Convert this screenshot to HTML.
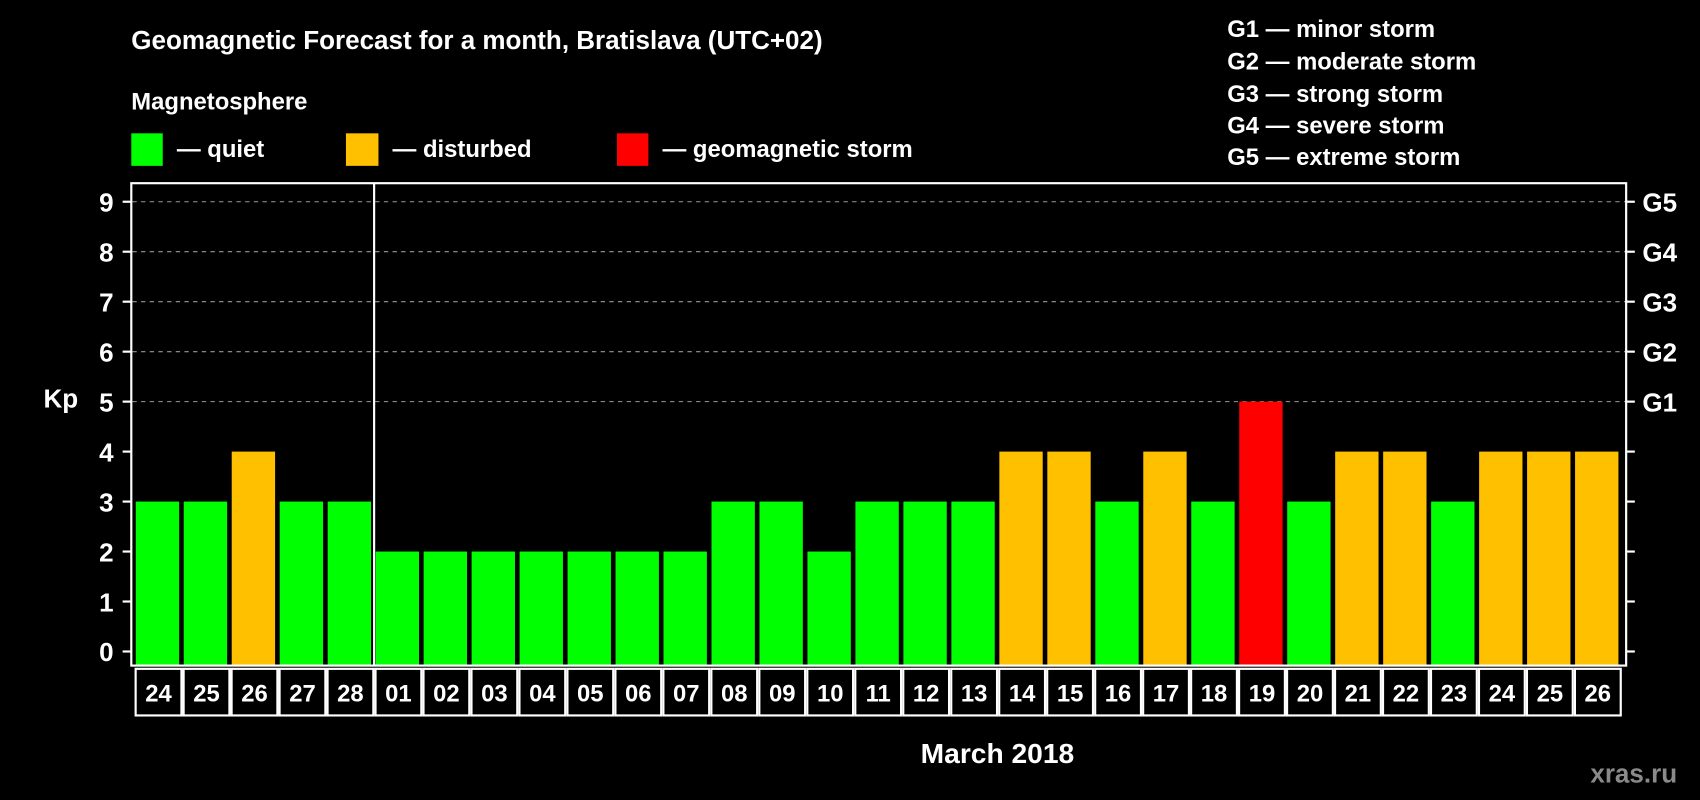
<!DOCTYPE html>
<html><head><meta charset="utf-8"><style>
html,body{margin:0;padding:0;background:#000;width:1700px;height:800px;overflow:hidden}
svg text{font-family:"Liberation Sans",Arial,sans-serif;font-weight:bold;fill:#fff}
</style></head><body>
<svg id="chart" width="1700" height="800" viewBox="0 0 1568 738" xmlns="http://www.w3.org/2000/svg">
<rect width="1568" height="738" fill="#000"/>
<text x="121" y="45" font-size="24">Geomagnetic Forecast for a month, Bratislava (UTC+02)</text>
<text x="121" y="101" font-size="22">Magnetosphere</text>
<g><rect x="121" y="123" width="29" height="30" fill="#00ff00"/><text x="163" y="145" font-size="22">— quiet</text></g>
<g><rect x="319" y="123" width="30" height="30" fill="#ffc000"/><text x="362" y="145" font-size="22">— disturbed</text></g>
<g><rect x="569" y="123" width="29" height="30" fill="#ff0000"/><text x="611" y="145" font-size="22">— geomagnetic storm</text></g>
<g font-size="22">
<text x="1132" y="34">G1 — minor storm</text>
<text x="1132" y="64">G2 — moderate storm</text>
<text x="1132" y="94">G3 — strong storm</text>
<text x="1132" y="123">G4 — severe storm</text>
<text x="1132" y="152">G5 — extreme storm</text>
</g>
<text x="40" y="376" font-size="24">Kp</text>
<g id="grid"></g><g id="bars"></g>
<rect x="121" y="169" width="1379" height="445" fill="none" stroke="#fff" stroke-width="2"/>
<line x1="345" y1="169" x2="345" y2="614" stroke="#fff" stroke-width="2"/>
<g id="yaxis"></g><g id="xaxis"></g>
<text x="920" y="704" font-size="26" text-anchor="middle">March 2018</text>
<text x="1547" y="722" font-size="24" text-anchor="end" style="fill:#8a8a8a">xras.ru</text>
</svg>
<script>
const days=["24","25","26","27","28","01","02","03","04","05","06","07","08","09","10","11","12","13","14","15","16","17","18","19","20","21","22","23","24","25","26"];
const kpValues=[3,3,4,3,3,2,2,2,2,2,2,2,3,3,2,3,3,3,4,4,3,4,3,5,3,4,4,3,4,4,4];
const yTicks=[0,1,2,3,4,5,6,7,8,9];
const gLabels=["","","","","","G1","G2","G3","G4","G5"];
const NS="http://www.w3.org/2000/svg";
const y0=601,unit=46.1,slot0=123,pitch=(1495-123)/days.length,bw=40;
const ys=v=>y0-v*unit, xs=i=>slot0+pitch*i;
function mk(t,a,p){const e=document.createElementNS(NS,t);for(const k in a)e.setAttribute(k,a[k]);p.appendChild(e);return e;}
const grid=document.getElementById('grid'),bars=document.getElementById('bars'),ya=document.getElementById('yaxis'),xa=document.getElementById('xaxis');
yTicks.forEach((t,i)=>{
  const y=ys(t);
  if(t>=5){const g=mk('line',{x1:122,x2:1499,y1:y,y2:y,stroke:'#999','stroke-dasharray':'4,4','stroke-width':1},grid);
  
  }
  mk('line',{x1:113,x2:121,y1:y,y2:y,stroke:'#fff','stroke-width':2},ya);
  mk('line',{x1:1500,x2:1508,y1:y,y2:y,stroke:'#fff','stroke-width':2},ya);
  const tx=mk('text',{x:98,y:y+9,'font-size':24,'text-anchor':'middle'},ya);tx.textContent=t;
  
  
  if(gLabels[i]){const g2=mk('text',{x:1515,y:y+9,'font-size':24},ya);g2.textContent=gLabels[i];
  
  }
});
days.forEach((d,i)=>{
  const v=kpValues[i];
  const col=v>=5?'#ff0000':(v>=4?'#ffc000':'#00ff00');
  const cx=xs(i)+pitch/2;
  const r=mk('rect',{x:cx-bw/2,y:ys(v),width:bw,height:y0+12-ys(v),fill:col},bars);
  
  
  const c=mk('rect',{x:xs(i)+2,y:617,width:pitch-2,height:43,fill:'none',stroke:'#fff','stroke-width':2},xa);
  
  
  const t=mk('text',{x:cx+1,y:647,'font-size':22,'text-anchor':'middle'},xa);t.textContent=d;
  
  
});
</script>
</body></html>
